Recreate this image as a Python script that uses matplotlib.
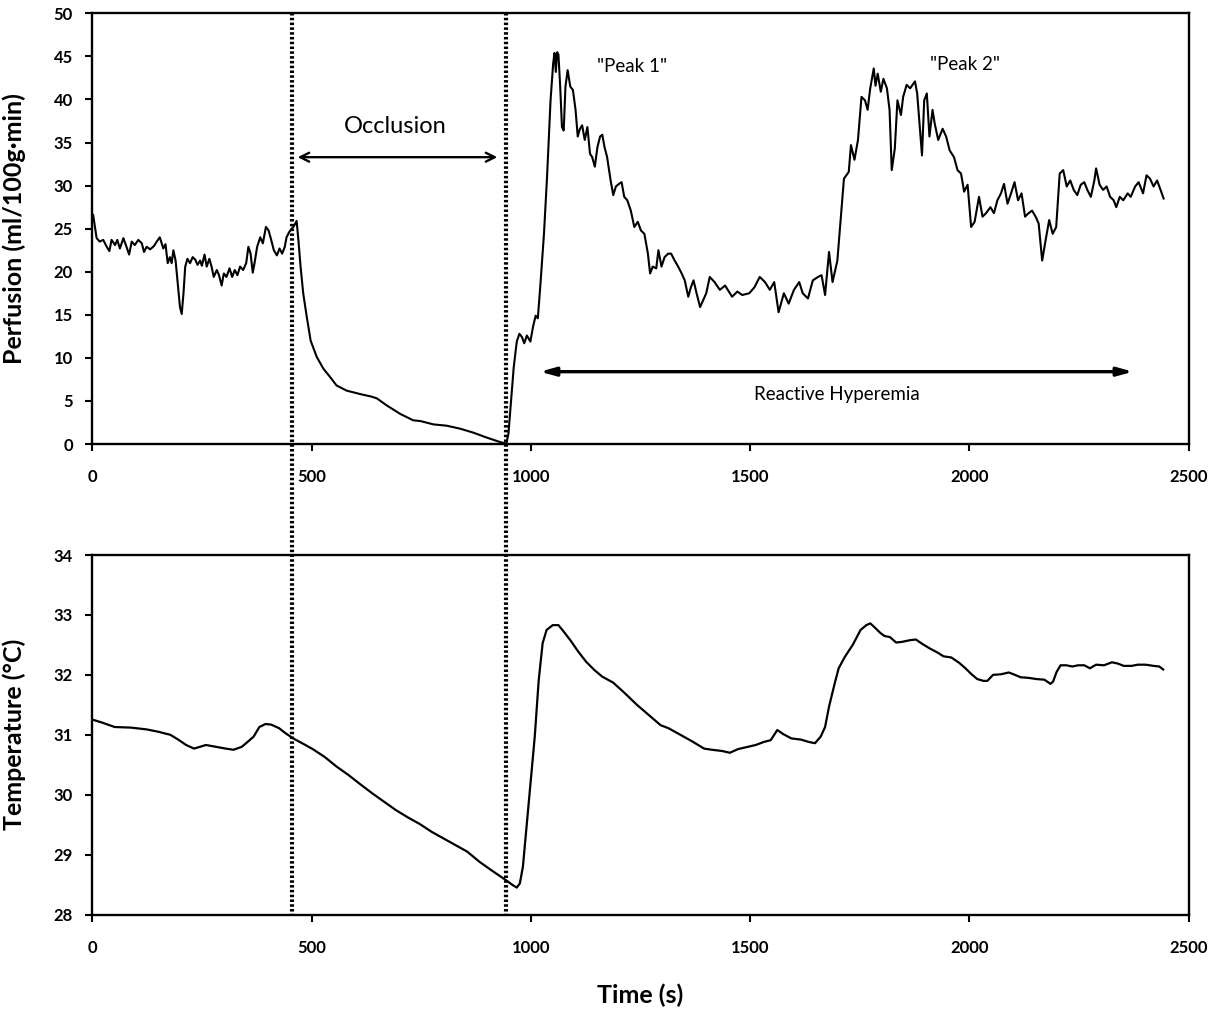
import numpy as np
import matplotlib
matplotlib.use("Agg")
import matplotlib.pyplot as plt
from matplotlib.lines import Line2D

plt.rcParams["font.family"] = ["Lato", "DejaVu Sans"]

# perfusion trace (s, ml/100g.min)
perf_t = [2, 10, 17, 25, 33, 39, 44, 52, 57, 63, 71, 78, 84, 90, 97, 105, 113, 118, 124, 132,
          141, 147, 154, 162, 167, 172, 177, 181, 185, 190, 195, 200, 204, 208, 212, 217, 223,
          229, 235, 240, 246, 250, 256, 261, 267, 272, 277, 284, 289, 295, 300, 306, 313, 319,
          325, 331, 337, 344, 351, 356, 361, 366, 370, 376, 383, 389, 396, 402, 408, 414, 421,
          427, 433, 439, 443, 449, 455, 460, 466, 470, 475, 481, 489, 498, 512, 527, 542, 557,
          580, 611, 637, 649, 671, 702, 732, 748, 778, 808, 839, 869, 900, 930, 944, 949, 955,
          961, 968, 974, 980, 985, 991, 999, 1005, 1011, 1016, 1022, 1030, 1037, 1045, 1051,
          1054, 1057, 1060, 1063, 1067, 1071, 1075, 1079, 1084, 1090, 1096, 1102, 1107, 1112,
          1117, 1123, 1129, 1135, 1140, 1146, 1152, 1158, 1163, 1168, 1174, 1182, 1188, 1194,
          1201, 1207, 1213, 1220, 1228, 1236, 1244, 1251, 1259, 1267, 1272, 1278, 1286, 1291,
          1298, 1305, 1313, 1320, 1328, 1336, 1344, 1351, 1359, 1365, 1371, 1378, 1386, 1400,
          1408, 1419, 1431, 1443, 1459, 1471, 1482, 1498, 1510, 1522, 1534, 1545, 1555, 1565,
          1577, 1588, 1600, 1612, 1620, 1632, 1643, 1655, 1663, 1671, 1680, 1688, 1699, 1707,
          1714, 1725, 1730, 1738, 1746, 1754, 1762, 1768, 1774, 1782, 1786, 1791, 1798, 1804,
          1812, 1818, 1823, 1830, 1836, 1844, 1849, 1857, 1865, 1876, 1881, 1887, 1892, 1897,
          1903, 1909, 1916, 1921, 1929, 1939, 1947, 1955, 1965, 1973, 1981, 1988, 1996, 2004,
          2012, 2022, 2030, 2038, 2048, 2056, 2064, 2072, 2079, 2087, 2095, 2103, 2111, 2119,
          2127, 2135, 2143, 2151, 2158, 2166, 2174, 2182, 2190, 2198, 2206, 2214, 2222, 2230,
          2238, 2246, 2254, 2262, 2269, 2277, 2285, 2289, 2297, 2305, 2313, 2321, 2329, 2335,
          2343, 2351, 2361, 2368, 2378, 2386, 2396, 2404, 2412, 2420, 2428, 2436, 2443]
perf_v = [26.6, 23.9, 23.5, 23.7, 22.9, 22.4, 23.7, 23.1, 23.7, 22.7, 23.9, 22.9, 22.0, 23.5,
          23.1, 23.7, 23.3, 22.3, 22.9, 22.6, 23.0, 23.5, 24.0, 22.7, 23.2, 21.0, 21.7, 21.0,
          22.5, 21.3, 18.6, 15.9, 15.1, 17.5, 20.6, 21.5, 21.0, 21.7, 21.4, 20.8, 21.3, 20.7,
          22.0, 20.6, 21.5, 20.6, 19.4, 20.2, 19.6, 18.4, 19.8, 19.4, 20.4, 19.4, 20.2, 19.6,
          20.6, 20.2, 21.0, 22.9, 22.1, 19.9, 21.0, 22.9, 24.0, 23.3, 25.2, 24.8, 23.7, 22.5,
          21.9, 22.7, 22.1, 22.9, 24.0, 24.6, 25.0, 25.3, 25.9, 23.7, 20.6, 17.5, 14.8, 12.0,
          10.1, 8.75, 7.8, 6.8, 6.2, 5.8, 5.5, 5.3, 4.5, 3.5, 2.75, 2.67, 2.28, 2.13, 1.78,
          1.32, 0.74, 0.23, 0.04, 1.2, 5.1, 8.9, 11.9, 12.8, 12.4, 11.7, 12.6, 11.9, 13.6, 14.9,
          14.6, 18.6, 24.4, 31.0, 39.9, 44.2, 45.4, 43.2, 45.5, 45.2, 41.5, 36.8, 36.4, 41.5,
          43.4, 41.5, 41.1, 38.8, 35.7, 36.6, 37.0, 35.3, 36.8, 33.7, 33.3, 32.2, 34.5, 35.7,
          35.9, 34.5, 33.3, 30.6, 28.9, 29.9, 30.2, 30.4, 28.7, 28.3, 27.1, 25.2, 25.8, 24.8,
          24.4, 22.1, 19.8, 20.6, 20.4, 22.5, 20.6, 21.7, 22.1, 22.1, 21.3, 20.6, 19.8, 19.0,
          17.1, 18.2, 19.0, 17.5, 15.9, 17.5, 19.4, 18.8, 17.9, 18.4, 17.1, 17.7, 17.3, 17.5,
          18.2, 19.4, 18.8, 17.9, 18.8, 15.3, 17.5, 16.3, 17.9, 18.8, 17.5, 16.9, 19.0, 19.4,
          19.6, 17.3, 22.3, 18.8, 21.3, 26.4, 30.8, 31.6, 34.7, 33.0, 35.3, 40.3, 39.9, 38.8,
          41.3, 43.6, 41.6, 43.0, 40.9, 42.4, 41.3, 38.8, 31.8, 34.3, 39.9, 38.2, 40.3, 41.7,
          41.3, 42.1, 40.7, 36.8, 33.5, 39.9, 40.7, 35.7, 38.8, 37.2, 35.3, 36.6, 35.7, 34.1,
          33.3, 31.8, 31.4, 29.3, 30.1, 25.2, 25.8, 28.7, 26.4, 26.8, 27.5, 26.8, 28.3, 29.1,
          30.2, 27.9, 29.1, 30.4, 28.3, 29.1, 26.4, 26.8, 27.1, 26.4, 25.6, 21.3, 23.7, 26.0,
          24.4, 25.2, 31.4, 31.8, 29.9, 30.6, 29.5, 28.9, 30.1, 30.4, 29.5, 28.7, 30.6, 32.0,
          30.1, 29.5, 29.9, 28.7, 28.3, 27.5, 28.7, 28.3, 29.1, 28.7, 29.9, 30.4, 29.1, 31.2,
          30.8, 29.9, 30.6, 29.5, 28.5]

# skin temperature trace (s, degC)
temp_t = [2, 24, 51, 88, 124, 151, 178, 196, 214, 232, 246, 259, 282, 304, 322, 341, 354, 368,
          381, 395, 408, 426, 440, 458, 481, 503, 530, 557, 584, 612, 639, 666, 693, 720, 747,
          774, 801, 828, 855, 883, 910, 932, 946, 959, 968, 975, 982, 991, 1000, 1009, 1018,
          1027, 1036, 1050, 1063, 1072, 1090, 1108, 1126, 1145, 1163, 1188, 1215, 1242, 1269,
          1296, 1314, 1341, 1368, 1395, 1413, 1436, 1454, 1472, 1495, 1513, 1531, 1547, 1562,
          1576, 1594, 1616, 1634, 1648, 1661, 1671, 1680, 1693, 1702, 1716, 1734, 1752, 1765,
          1774, 1783, 1797, 1806, 1819, 1833, 1846, 1865, 1878, 1892, 1910, 1928, 1941, 1959,
          1977, 1991, 2005, 2018, 2032, 2041, 2054, 2072, 2090, 2104, 2117, 2135, 2153, 2171,
          2185, 2191, 2199, 2208, 2221, 2235, 2248, 2262, 2275, 2289, 2307, 2325, 2338, 2352,
          2370, 2384, 2402, 2420, 2433, 2442]
temp_v = [31.25, 31.20, 31.13, 31.12, 31.09, 31.05, 31.00, 30.92, 30.83, 30.77, 30.80, 30.83,
          30.80, 30.77, 30.75, 30.80, 30.88, 30.97, 31.13, 31.18, 31.17, 31.11, 31.03, 30.94,
          30.85, 30.76, 30.63, 30.47, 30.33, 30.17, 30.02, 29.88, 29.74, 29.62, 29.51, 29.38,
          29.27, 29.16, 29.05, 28.88, 28.74, 28.63, 28.56, 28.49, 28.45, 28.52, 28.80, 29.52,
          30.24, 30.97, 31.91, 32.53, 32.75, 32.83, 32.83, 32.75, 32.58, 32.39, 32.22, 32.08,
          31.97, 31.87, 31.69, 31.50, 31.33, 31.16, 31.11, 31.00, 30.89, 30.77, 30.75, 30.73,
          30.70, 30.76, 30.80, 30.83, 30.88, 30.91, 31.08, 31.01, 30.94, 30.92, 30.88, 30.86,
          30.97, 31.13, 31.47, 31.86, 32.11, 32.30, 32.50, 32.75, 32.83, 32.86, 32.80, 32.70,
          32.65, 32.63, 32.54, 32.55, 32.58, 32.59, 32.52, 32.44, 32.37, 32.31, 32.29, 32.20,
          32.11, 32.01, 31.93, 31.90, 31.90, 32.00, 32.01, 32.04, 32.00, 31.96, 31.95, 31.93,
          31.92, 31.85, 31.89, 32.05, 32.16, 32.16, 32.14, 32.16, 32.16, 32.11, 32.17, 32.16,
          32.21, 32.19, 32.15, 32.15, 32.17, 32.17, 32.15, 32.14, 32.09]

# start and end of the cuff occlusion
occl_start, occl_end = 456, 944

fig = plt.figure(figsize=(12.22, 10.11), dpi=100)
ax1 = fig.add_axes([0.0755, 0.5608, 0.8972, 0.4260])
ax2 = fig.add_axes([0.0755, 0.0954, 0.8972, 0.3556])

ax1.plot(perf_t, perf_v, color="black", lw=1.5)
ax2.plot(temp_t, temp_v, color="black", lw=1.6)

ax1.set_xlim(0, 2500)
ax1.set_ylim(0, 50)
ax1.set_yticks(np.arange(0, 51, 5))
ax2.set_xlim(0, 2500)
ax2.set_ylim(28, 34)
ax2.set_yticks(np.arange(28, 35, 1))

for ax in (ax1, ax2):
    ax.set_xticks(np.arange(0, 2501, 500))
    ax.tick_params(axis="x", direction="out", length=5, width=1.5, pad=13, labelsize=12)
    ax.tick_params(axis="y", direction="out", length=5, width=1.5, pad=9, labelsize=12)
    for lab in ax.get_xticklabels() + ax.get_yticklabels():
        lab.set_fontweight("bold")
    for sp in ax.spines.values():
        sp.set_linewidth(1.7)
        sp.set_color("black")

ax1.set_ylabel("Perfusion (ml/100g\u00b7min)", fontsize=18, fontweight="bold")
ax1.yaxis.set_label_coords(-0.0605, 0.5)
ax2.set_ylabel("Temperature (\u00b0C)", fontsize=18, fontweight="bold")
ax2.yaxis.set_label_coords(-0.0605, 0.5)
fig.text(0.5235, 0.0158, "Time (s)", fontsize=18, fontweight="bold",
         ha="center", va="center")

# occlusion markers running through both panels (figure coords)
fig.canvas.draw()
to_fig = fig.transFigure.inverted()
for tx in (occl_start, occl_end):
    x_top, y_top = to_fig.transform(ax1.transData.transform((tx, 50)))
    x_bot, y_bot = to_fig.transform(ax2.transData.transform((tx, 28)))
    fig.add_artist(Line2D([x_top, x_bot], [y_top, y_bot], transform=fig.transFigure,
                          color="black", lw=3.0, linestyle=(0, (0.6, 0.55)),
                          dash_capstyle="butt"))

# annotations on the perfusion panel
ax1.annotate("", xy=(occl_start + 6, 33.3), xytext=(occl_end - 14, 33.3),
             arrowprops=dict(arrowstyle="<->", lw=1.7, color="black", mutation_scale=16))
ax1.text((occl_start + occl_end) / 2 - 8, 36.9, "Occlusion", fontsize=17,
         ha="center", va="center")

ax1.annotate("", xy=(1021, 8.4), xytext=(2373, 8.4),
             arrowprops=dict(arrowstyle="<|-|>, head_length=0.9, head_width=0.25",
                             lw=2.4, color="black", shrinkA=0, shrinkB=0))
ax1.text(1699, 5.7, "Reactive Hyperemia", fontsize=13.5, ha="center", va="center")

ax1.text(1231, 43.8, "\"Peak 1\"", fontsize=13.5, ha="center", va="center")
ax1.text(1991, 44.1, "\"Peak 2\"", fontsize=13.5, ha="center", va="center")

fig.savefig("out.png", dpi=100, facecolor="white")
